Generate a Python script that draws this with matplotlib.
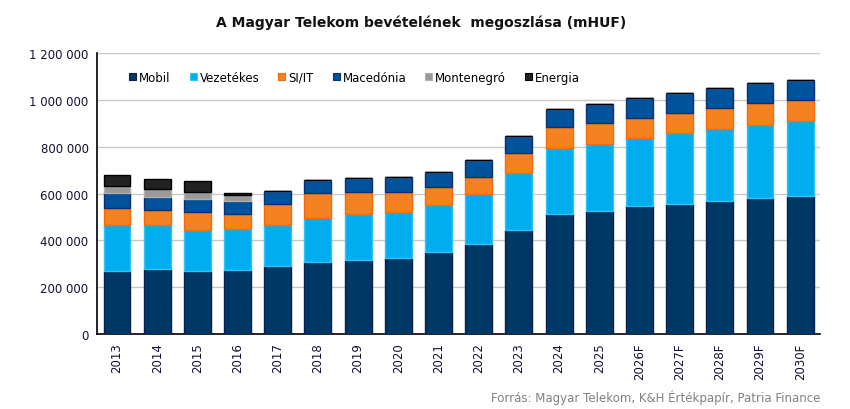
import numpy as np
import matplotlib.pyplot as plt
from matplotlib.ticker import FuncFormatter

years = ['2013', '2014', '2015', '2016', '2017', '2018', '2019', '2020', '2021',
         '2022', '2023', '2024', '2025', '2026F', '2027F', '2028F', '2029F', '2030F']

# mHUF
mobil = [269, 279, 269, 275, 291, 309, 317, 326, 351, 384, 445, 514, 527, 545, 556, 569, 582, 591]
vezetekes = [198, 188, 175, 175, 176, 186, 195, 195, 201, 212, 244, 279, 284, 293, 304, 308, 312, 320]
si_it = [71, 62, 77, 62, 88, 107, 94, 85, 76, 74, 85, 92, 91, 86, 85, 89, 94, 88]
macedonia = [65, 57, 57, 57, 54, 55, 59, 64, 64, 73, 71, 76, 80, 84, 84, 84, 84, 88]
montenegro = [30, 33, 30, 26, 0, 0, 0, 0, 0, 0, 0, 0, 0, 0, 0, 0, 0, 0]
energia = [46, 43, 45, 7, 0, 0, 0, 0, 0, 0, 0, 0, 0, 0, 0, 0, 0, 0]

series = [
    ('Mobil', mobil, '#003865', '#0a1f4d'),
    ('Vezetékes', vezetekes, '#00aeef', '#2ec4f5'),
    ('SI/IT', si_it, '#f58220', '#f06a10'),
    ('Macedónia', macedonia, '#00529b', '#0a2f78'),
    ('Montenegró', montenegro, '#999999', '#b0b0b0'),
    ('Energia', energia, '#222222', '#000000'),
]

fig = plt.figure(figsize=(8.5, 4.1), dpi=100)
ax = fig.add_axes([0.114, 0.183, 0.851, 0.685])

x = np.arange(len(years))
bottom = np.zeros(len(years))
for name, vals, color, edge in series:
    v = np.array(vals) * 1000
    ax.bar(x, v, 0.67, bottom=bottom, color=color, edgecolor=edge,
           linewidth=1.0, label=name, zorder=3)
    bottom += v

ax.set_xlim(-0.5, len(years) - 0.5)
ax.set_ylim(0, 1200000)
ax.set_yticks(np.arange(0, 1200001, 200000))
ax.yaxis.set_major_formatter(FuncFormatter(lambda v, p: f'{int(v):,}'.replace(',', ' ')))
ax.set_xticks(x)
ax.set_xticklabels(years, rotation=90)
ax.tick_params(axis='both', labelsize=8.5, colors='#111133', length=0, pad=6)
ax.grid(axis='y', color='#c8c8c8', linewidth=1, zorder=0)

for s in ['top', 'right']:
    ax.spines[s].set_visible(False)
for s in ['left', 'bottom']:
    ax.spines[s].set_color('black')
    ax.spines[s].set_linewidth(1.2)

leg = ax.legend(loc='upper left', bbox_to_anchor=(0.03, 0.975), ncol=6, frameon=False,
                fontsize=8.5, handlelength=0.6, handleheight=0.6, handletextpad=0.25,
                columnspacing=1.6)
for h in leg.legend_handles:
    h.set_linewidth(0.8)

fig.text(0.495, 0.945, 'A Magyar Telekom bevételének  megoszlása (mHUF)',
         ha='center', va='center', fontsize=10, fontweight='bold', color='#111111')
fig.text(0.965, 0.03, 'Forrás: Magyar Telekom, K&H Értékpapír, Patria Finance',
         ha='right', va='center', fontsize=8.5, color='#808080')

fig.savefig('out.png', dpi=100)
